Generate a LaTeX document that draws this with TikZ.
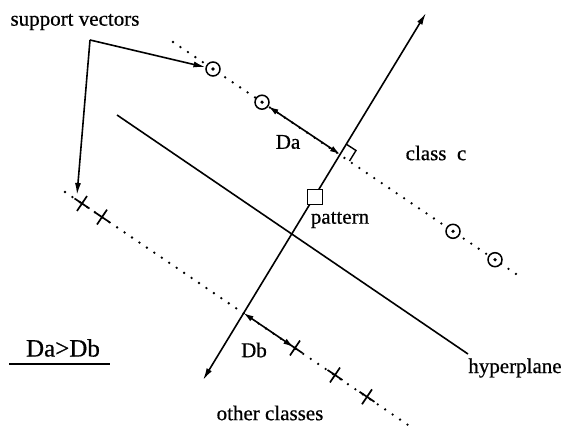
\documentclass[tikz,border=0pt]{standalone}
\usepackage{fontspec}
\setmainfont{Liberation Serif}
\newfontfamily\scanfont{Liberation Serif}[FakeBold=0.6]
\usetikzlibrary{arrows.meta,shapes.misc}
\begin{document}
\begin{tikzpicture}[x=1pt,y=-1pt,
  lbl/.style={inner sep=0pt, font=\scanfont\fontsize{21}{24}\selectfont},
  mainline/.style={line width=1.6pt},
  dotline/.style={line width=2.6pt, dash pattern=on 0pt off 9pt, line cap=round},
  arr/.style={line width=1.6pt, -{Latex[length=12pt,width=6pt]}},
  dbl/.style={line width=1.6pt, {Latex[length=10pt,width=6pt]}-{Latex[length=10pt,width=6pt]}},
  sv/.style={circle, draw, line width=1.5pt, fill=white, minimum size=14pt, inner sep=0pt},
  svdot/.style={fill=black},
  xm/.style={cross out, draw, line width=1.7pt, minimum size=11pt, inner sep=0pt, rotate=11},
  ]
\useasboundingbox (0,0) rectangle (564,430);
% margin lines
\coordinate (t0) at (173,42);
\coordinate (t1) at (522,278);
\coordinate (b0) at (65,192);
\coordinate (b1) at (411,427);
\draw[dotline] (t0) -- (t1);
\draw[dotline] (b0) -- (b1);
% hyperplane
\coordinate (h0) at (117,115);
\coordinate (h1) at (468,354);
\draw[mainline] (h0) -- (h1);
% axis
\coordinate (axB) at (203,380);
\coordinate (axT) at (426,13);
\draw[line width=1.6pt, {Latex[length=12pt,width=6pt]}-{Latex[length=12pt,width=6pt]}] (axB) -- (axT);
\coordinate (P) at (339.9,154.2);
\coordinate (Q) at (243.6,313.1);
% right angle mark
\coordinate (ra1) at (346,144);
\coordinate (ra2) at (356,150.5);
\coordinate (ra3) at (349.5,161);
\draw[line width=1.4pt] (ra1) -- (ra2) -- (ra3);
% support vectors class c
\node[sv] (c1) at (213,69) {};
\node[sv] (c2) at (262,102.2) {};
\node[sv] (c3) at (453,231.3) {};
\node[sv] (c4) at (495,259.7) {};
\foreach \c in {c1,c2,c3,c4} \fill[svdot] (\c.center) circle (1.8pt);
% other classes
\node[xm] (x1) at (82,203.5) {};
\node[xm] (x2) at (102,217.1) {};
\node[xm] (x3) at (295,348) {};
\node[xm] (x4) at (335,375) {};
\node[xm] (x5) at (367,396.8) {};
% pattern
\node[draw, line width=1.5pt, fill=white, minimum size=15pt, inner sep=0pt] (pat) at (315,197) {};
% distances
\draw[dbl] (c2) -- (P);
\draw[dbl, shorten >=2pt] (Q) -- (x3.center);
% pointer lines
\coordinate (corner) at (90,40);
\coordinate (tipA) at (77,195);
\draw[arr] (corner) -- (c1);
\draw[arr] (corner) -- (tipA);
% labels
\node[lbl] (tsv) at (75,22) {support vectors};
\node[lbl] (tda) at (288,142) {Da};
\node[lbl] (tcc) at (436,153) {class\ \ c};
\node[lbl] (tpat) at (340,220) {pattern};
\node[lbl] (tdb) at (254,350) {Db};
\node[lbl] (thp) at (515,368) {hyperplane};
\node[lbl] (toc) at (270,413) {other classes};
\node[lbl, font=\scanfont\fontsize{25}{28}\selectfont] (tdd) at (63,348) {Da>Db};
\coordinate (ul1) at (9,364);
\coordinate (ul2) at (110,364);
\draw[line width=1.6pt] (ul1) -- (ul2);
\end{tikzpicture}
\end{document}
